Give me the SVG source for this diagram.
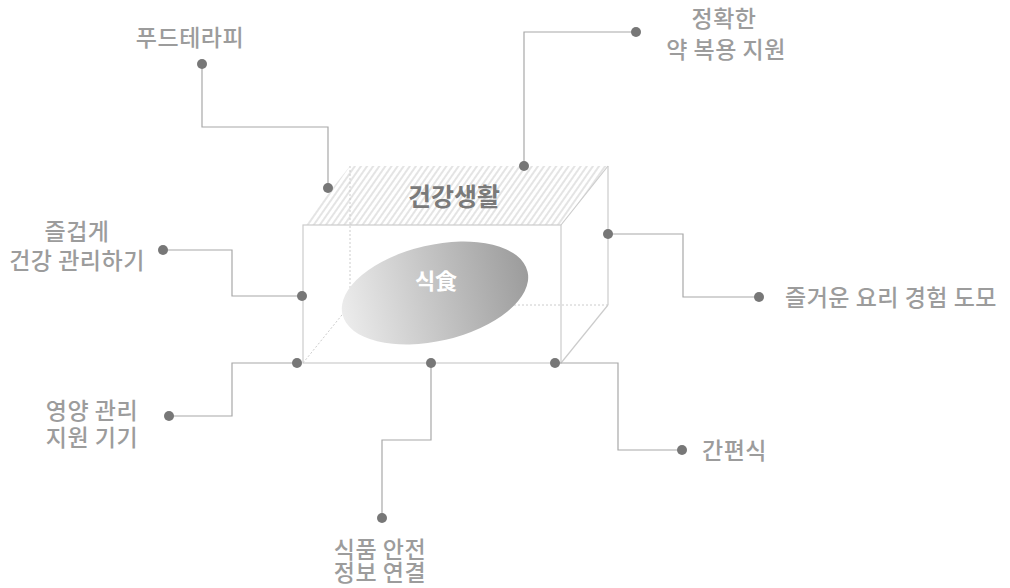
<svg xmlns="http://www.w3.org/2000/svg" width="1010" height="588" viewBox="0 0 1010 588">
<defs>
<pattern id="hatch" width="5" height="5" patternUnits="userSpaceOnUse" patternTransform="rotate(35)">
<rect width="5" height="5" fill="#ffffff"/>
<line x1="1" y1="0" x2="1" y2="5" stroke="#d2d2d2" stroke-width="1.2"/>
</pattern>
<linearGradient id="eg" x1="0" y1="0" x2="1" y2="0">
<stop offset="0" stop-color="#ececec"/>
<stop offset="1" stop-color="#9c9c9c"/>
</linearGradient>
<style>
.lbl{font-family:"Noto Sans CJK KR","Noto Sans",sans-serif;font-size:23px;letter-spacing:0.5px;fill:#9c9c9c;font-weight:500;}
.wire{fill:none;stroke:#a8a8a8;stroke-width:1.2;}
.edge{fill:none;stroke:#cccccc;stroke-width:1.2;}
.dash{fill:none;stroke:#cccccc;stroke-width:1;stroke-dasharray:2 2;}
.dot{fill:#777777;}
</style>
</defs>
<rect width="1010" height="588" fill="#ffffff"/>

<g id="box">
<polygon points="303,225 350,166 608,166 561,225" fill="url(#hatch)"/>
<line class="dash" x1="350" y1="166" x2="350" y2="305"/>
<line class="dash" x1="350" y1="305" x2="608" y2="305"/>
<line class="dash" x1="303" y1="363" x2="350" y2="305"/>
<line class="edge" x1="608" y1="166" x2="608" y2="305"/>
<line class="edge" x1="561" y1="363" x2="608" y2="305"/>
<line class="edge" x1="561" y1="225" x2="608" y2="166"/>
<rect class="edge" x="303" y="225" width="258" height="138"/>
<text x="454" y="206" text-anchor="middle" style="font-family:'Noto Sans CJK KR',sans-serif;font-size:25px;font-weight:bold;fill:#7a7a7a">건강생활</text>
</g>

<g id="food">
<ellipse cx="435" cy="293" rx="95" ry="48" transform="rotate(-13 435 293)" fill="url(#eg)"/>
<text x="436" y="289" text-anchor="middle" style="font-family:'Noto Sans CJK KR',sans-serif;font-size:22px;font-weight:bold;fill:#ffffff">식食</text>
</g>

<g id="connectors">
<polyline class="wire" points="202,64 202,127 328,127 328,188"/>
<polyline class="wire" points="636,32 524,32 524,166"/>
<polyline class="wire" points="163,250 232,250 232,296 302,296"/>
<polyline class="wire" points="169,416 232,416 232,363 297,363"/>
<polyline class="wire" points="608,234 683,234 683,297 759,297"/>
<polyline class="wire" points="555,363 618,363 618,450 682,450"/>
<polyline class="wire" points="431,363 431,440 382,440 382,518"/>
</g>

<g id="n-foodtherapy">
<circle class="dot" cx="202" cy="64" r="5"/>
<circle class="dot" cx="328" cy="188" r="5"/>
<text class="lbl" x="190" y="45.5" text-anchor="middle">푸드테라피</text>
</g>
<g id="n-medication">
<circle class="dot" cx="636" cy="32" r="5"/>
<circle class="dot" cx="524" cy="166" r="5"/>
<text class="lbl" x="724" y="26.5" text-anchor="middle">정확한</text>
<text class="lbl" x="726" y="57.5" text-anchor="middle">약 복용 지원</text>
</g>
<g id="n-fun-health">
<circle class="dot" cx="163" cy="250" r="5"/>
<circle class="dot" cx="302" cy="296" r="5"/>
<text class="lbl" x="77" y="240" text-anchor="middle">즐겁게</text>
<text class="lbl" x="77" y="269" text-anchor="middle">건강 관리하기</text>
</g>
<g id="n-nutrition">
<circle class="dot" cx="169" cy="416" r="5"/>
<circle class="dot" cx="297" cy="363" r="5"/>
<text class="lbl" x="92" y="419" text-anchor="middle">영양 관리</text>
<text class="lbl" x="92" y="445.5" text-anchor="middle">지원 기기</text>
</g>
<g id="n-cooking">
<circle class="dot" cx="608" cy="234" r="5"/>
<circle class="dot" cx="759" cy="297" r="5"/>
<text class="lbl" x="785" y="305.5">즐거운 요리 경험 도모</text>
</g>
<g id="n-convenience">
<circle class="dot" cx="555" cy="363" r="5"/>
<circle class="dot" cx="682" cy="450" r="5"/>
<text class="lbl" x="702" y="458.5">간편식</text>
</g>
<g id="n-safety">
<circle class="dot" cx="431" cy="363" r="5"/>
<circle class="dot" cx="382" cy="518" r="5"/>
<text class="lbl" x="380" y="558" text-anchor="middle">식품 안전</text>
<text class="lbl" x="380" y="581" text-anchor="middle">정보 연결</text>
</g>
</svg>
